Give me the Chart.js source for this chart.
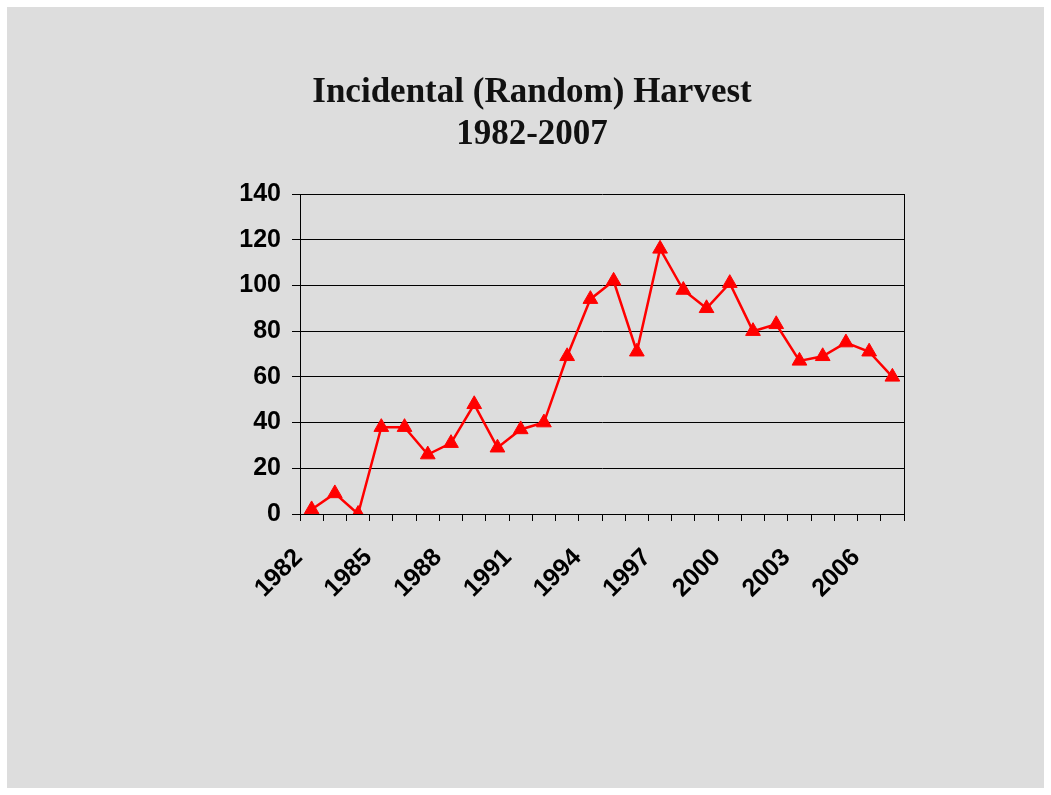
<!DOCTYPE html>
<html>
<head>
<meta charset="utf-8">
<title>Incidental (Random) Harvest 1982-2007</title>
<script src="https://cdn.jsdelivr.net/npm/chart.js@4"></script>
<style>
    body { margin: 0; background: #ffffff; }
    .panel { position: absolute; left: 7px; top: 7px; width: 1037px; height: 781px; background: #dddddd; }
    #harvestChart { position: absolute; left: 0; top: 0; }
</style>
</head>
<body>
<div class="panel"></div>
<canvas id="harvestChart" width="1051" height="795"></canvas>
<script>
// Harvest data
const years = ['1982', '1983', '1984', '1985', '1986', '1987', '1988', '1989', '1990', '1991', '1992', '1993', '1994',
               '1995', '1996', '1997', '1998', '1999', '2000', '2001', '2002', '2003', '2004', '2005', '2006', '2007'];
const harvest = [2, 9, 0, 38, 38, 26, 31, 48, 29, 37, 40, 69, 94,
                 102, 71, 116, 98, 90, 101, 80, 83, 67, 69, 75, 71, 60];
const yTicks = [0, 20, 40, 60, 80, 100, 120, 140];
const titleLines = ['Incidental (Random) Harvest', '1982-2007'];

const axisFont = { family: '"Liberation Sans", Arial, sans-serif', size: 25, weight: 'bold' };

const ctx = document.getElementById('harvestChart').getContext('2d');
new Chart(ctx, {
    type: 'line',
    data: {
        labels: years,
        datasets: [{
            label: 'Harvest',
            data: harvest,
            borderColor: '#ff0000',
            backgroundColor: '#ff0000',
            borderWidth: 2.5,
            tension: 0,
            pointStyle: 'triangle',
            pointRadius: 8.5,
            pointBorderWidth: 1,
            pointBackgroundColor: '#ff0000',
            pointBorderColor: '#ff0000'
        }]
    },
    options: {
        responsive: false,
        animation: false,
        layout: { padding: { left: 160, right: 147, top: 10, bottom: 181 } },
        plugins: {
            legend: { display: false },
            tooltip: { enabled: false },
            title: {
                display: true,
                text: titleLines,
                color: '#111111',
                font: { family: '"Liberation Serif", "Times New Roman", serif', size: 35, weight: 'bold', lineHeight: 1.2 },
                padding: { top: 62, bottom: 38 }
            }
        },
        scales: {
            x: {
                type: 'category',
                offset: true,
                grid: { offset: true, drawOnChartArea: false, drawTicks: true, tickLength: 7, color: '#000000' },
                border: { display: true, color: '#000000', width: 1 },
                ticks: {
                    autoSkip: false,
                    maxRotation: 45,
                    minRotation: 45,
                    color: '#000000',
                    font: axisFont,
                    padding: 22,
                    labelOffset: -13,
                    callback: function(value, index) { return index % 3 === 0 ? years[index] : ''; }
                },
                afterFit: function(scale) { scale.height = 100; }
            },
            y: {
                min: 0,
                max: 140,
                afterBuildTicks: function(scale) { scale.ticks = yTicks.map(v => ({ value: v })); },
                grid: { color: '#000000', lineWidth: 1, tickLength: 8 },
                border: { display: true, color: '#000000', width: 1 },
                ticks: { color: '#000000', font: axisFont, padding: 11 },
                afterFit: function(scale) { scale.width = 140; }
            },
            yRight: {
                position: 'right',
                min: 0,
                max: 140,
                grid: { display: false },
                border: { display: true, color: '#000000', width: 1 },
                ticks: { display: false },
                afterFit: function(scale) { scale.width = 0; }
            }
        }
    }
});
</script>
</body>
</html>
